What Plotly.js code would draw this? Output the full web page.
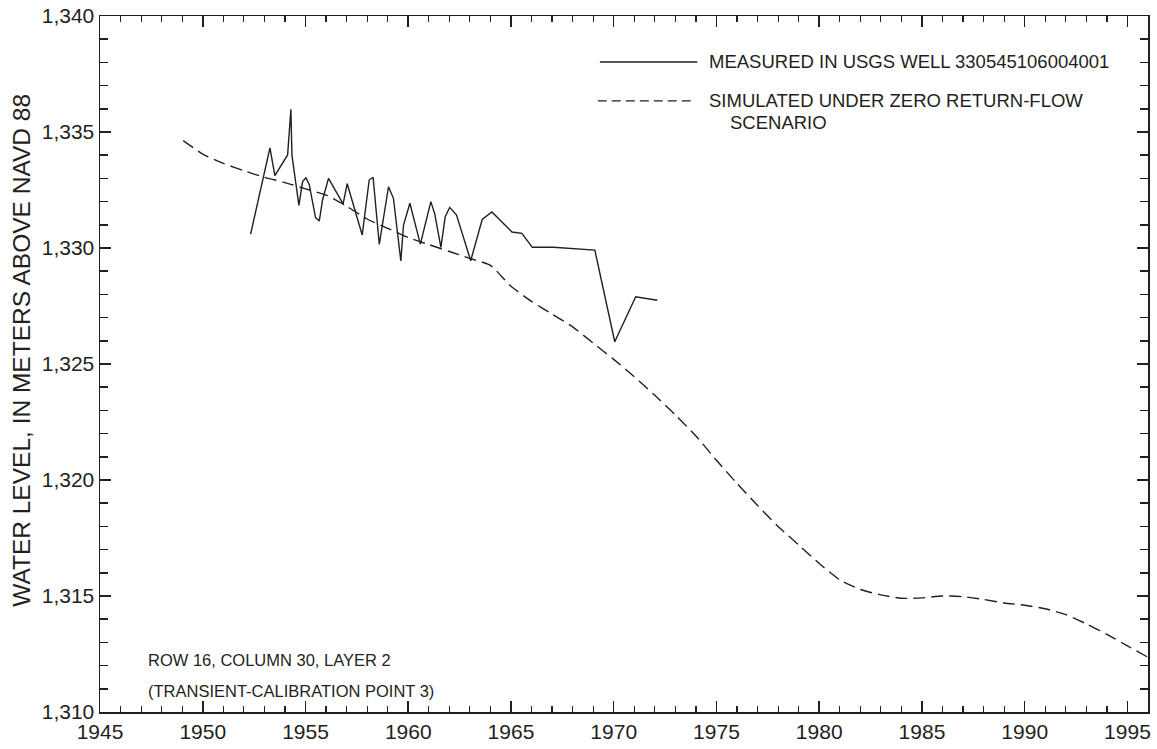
<!DOCTYPE html>
<html>
<head>
<meta charset="utf-8">
<script src="https://cdn.plot.ly/plotly-3.0.1.min.js"></script>
<style>html,body{margin:0;padding:0;background:#fff;}#chart{width:1157px;height:749px;}</style>
</head>
<body>
<div id="chart"></div>
<script>
// Measured in USGS well 330545106004001
const measuredYear = [1952.33, 1953.27, 1953.51, 1954.13, 1954.29, 1954.34, 1954.68, 1954.86, 1955.02, 1955.18,
  1955.49, 1955.67, 1955.83, 1956.12, 1956.83, 1957.03, 1957.76, 1958.10, 1958.29, 1958.59,
  1959.04, 1959.28, 1959.64, 1959.77, 1960.08, 1960.59, 1961.10, 1961.29, 1961.59, 1961.80,
  1962.02, 1962.35, 1963.04, 1963.60, 1964.07, 1965.05, 1965.53, 1966.04, 1967.05, 1969.08,
  1970.05, 1971.07, 1972.12];
const measuredLevel = [1330.60, 1334.32, 1333.12, 1334.01, 1335.98, 1334.00, 1331.84, 1332.86, 1333.03, 1332.74,
  1331.31, 1331.16, 1332.07, 1333.00, 1331.90, 1332.77, 1330.56, 1332.93, 1333.05, 1330.16,
  1332.64, 1332.14, 1329.44, 1330.99, 1331.93, 1330.17, 1332.00, 1331.47, 1330.03, 1331.35,
  1331.75, 1331.42, 1329.45, 1331.23, 1331.55, 1330.69, 1330.63, 1330.03, 1330.03, 1329.91,
  1325.96, 1327.90, 1327.75];

// Simulated under zero return-flow scenario
const simYear = [1949.05, 1950, 1951, 1952, 1953, 1954, 1955, 1956, 1957, 1958, 1959, 1960, 1961, 1962, 1963, 1964,
  1965, 1966, 1967, 1968, 1969, 1970, 1971, 1972, 1973, 1974, 1975, 1976, 1977, 1978, 1979, 1980,
  1981, 1982, 1983, 1984, 1985, 1986, 1987, 1988, 1989, 1990, 1991, 1992, 1993, 1994, 1995, 1996];
const simLevel = [1334.63, 1334.05, 1333.65, 1333.33, 1333.05, 1332.82, 1332.55, 1332.28, 1331.80, 1331.25, 1330.85, 1330.45, 1330.15, 1329.85, 1329.55, 1329.25,
  1328.35, 1327.70, 1327.15, 1326.60, 1325.90, 1325.20, 1324.45, 1323.65, 1322.80, 1321.90, 1320.85, 1319.85, 1318.90, 1318.00, 1317.20, 1316.40,
  1315.70, 1315.28, 1315.05, 1314.90, 1314.92, 1315.00, 1314.97, 1314.85, 1314.70, 1314.60, 1314.45, 1314.20, 1313.80, 1313.35, 1312.85, 1312.36];

const xTicks = [1945, 1950, 1955, 1960, 1965, 1970, 1975, 1980, 1985, 1990, 1995];
const yTicks = [1310, 1315, 1320, 1325, 1330, 1335, 1340];

const FONT = 'Liberation Sans, Arial, Helvetica, sans-serif';
const INK = '#231f20';

const traces = [
  {x: simYear, y: simLevel, mode: 'lines', type: 'scatter', line: {color: INK, width: 1.4, dash: '12px,6px', shape: 'spline', smoothing: 0.6}, hoverinfo: 'skip'},
  {x: measuredYear, y: measuredLevel, mode: 'lines', type: 'scatter', line: {color: INK, width: 1.4}, hoverinfo: 'skip'}
];

const axisCommon = {
  showgrid: false, zeroline: false, showline: true, linecolor: INK, linewidth: 1.5,
  ticks: 'inside', mirror: 'ticks', tickcolor: INK, tickwidth: 1.5,
  tickfont: {family: FONT, size: 21, color: INK}
};

const layout = {
  width: 1157, height: 749,
  margin: {l: 100, r: 9, t: 16, b: 37},
  paper_bgcolor: '#fff', plot_bgcolor: '#fff',
  showlegend: false,
  xaxis: Object.assign({}, axisCommon, {
    range: [1945, 1996], tickvals: xTicks, ticktext: xTicks.map(String), ticklen: 11,
    minor: {dtick: 1, tick0: 1945, ticks: 'inside', ticklen: 6, tickcolor: INK, tickwidth: 1.2}
  }),
  yaxis: Object.assign({}, axisCommon, {
    range: [1310, 1340], tickvals: yTicks, ticktext: yTicks.map(v => v.toLocaleString('en-US')), ticklen: 11,
    minor: {dtick: 1, tick0: 1310, ticks: 'inside', ticklen: 8, tickcolor: INK, tickwidth: 1.5}
  }),
  shapes: [
    {type: 'line', xref: 'paper', yref: 'paper', x0: 0.477, x1: 0.570, y0: 0.934, y1: 0.934, line: {color: INK, width: 1.5}},
    {type: 'line', xref: 'paper', yref: 'paper', x0: 0.475, x1: 0.565, y0: 0.878, y1: 0.878, line: {color: INK, width: 1.3, dash: '9px,5px'}}
  ],
  annotations: [
    {xref: 'paper', yref: 'paper', x: 0.579, y: 0.934, xanchor: 'left', yanchor: 'middle', showarrow: false,
     text: 'MEASURED IN USGS WELL 330545106004001', font: {family: FONT, size: 18.5, color: INK}},
    {xref: 'paper', yref: 'paper', x: 0.579, y: 0.878, xanchor: 'left', yanchor: 'middle', showarrow: false,
     text: 'SIMULATED UNDER ZERO RETURN-FLOW', font: {family: FONT, size: 18.5, color: INK}},
    {xref: 'paper', yref: 'paper', x: 0.599, y: 0.847, xanchor: 'left', yanchor: 'middle', showarrow: false,
     text: 'SCENARIO', font: {family: FONT, size: 18.5, color: INK}},
    {xref: 'paper', yref: 'paper', x: 0.0439, y: 0.0747, xanchor: 'left', yanchor: 'middle', showarrow: false,
     text: 'ROW 16, COLUMN 30, LAYER 2', font: {family: FONT, size: 16.5, color: INK}},
    {xref: 'paper', yref: 'paper', x: 0.0439, y: 0.0302, xanchor: 'left', yanchor: 'middle', showarrow: false,
     text: '(TRANSIENT-CALIBRATION POINT 3)', font: {family: FONT, size: 16.5, color: INK}},
    {xref: 'paper', yref: 'paper', x: -0.0744, y: 0.519, xanchor: 'center', yanchor: 'middle', showarrow: false, textangle: -90,
     text: 'WATER LEVEL, IN METERS ABOVE NAVD 88', font: {family: FONT, size: 24.5, color: INK}}
  ]
};

Plotly.newPlot('chart', traces, layout, {staticPlot: true, displayModeBar: false});
</script>
</body>
</html>
